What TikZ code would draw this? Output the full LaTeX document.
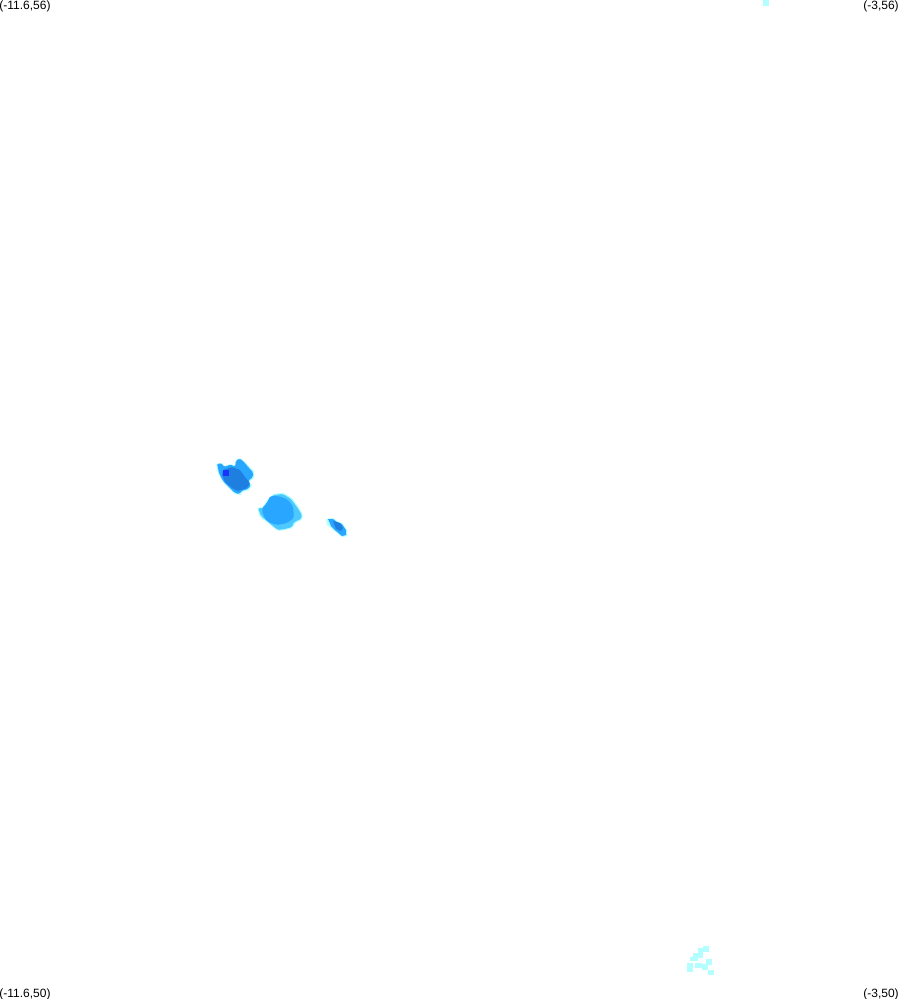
\documentclass[tikz,border=0pt]{standalone}
\usepackage{fontspec}
\setmainfont{Liberation Sans}
\definecolor{pale}{HTML}{B3FFFF}
\definecolor{lightb}{HTML}{4DC9FF}
\definecolor{midb}{HTML}{29A6FF}
\definecolor{deepb}{HTML}{1F7FE0}
\definecolor{coreb}{HTML}{1A33FF}
\tikzset{
  corner/.style={font=\fontsize{12}{14}\selectfont,text=black,inner sep=0pt},
  halo/.style={fill=pale,draw=none},
  lightblob/.style={fill=lightb,draw=none},
  midblob/.style={fill=midb,draw=none},
  deepblob/.style={fill=deepb,draw=none},
  coreblob/.style={fill=coreb,draw=none}
}
\begin{document}
\begin{tikzpicture}[x=1pt,y=-1pt]
\useasboundingbox (0,0) rectangle (899,999);
\fill[white] (0,0) rectangle (899,999);
% corner labels
\node[corner,anchor=center] (tl) at (25,6) {(-11.6,56)};
\node[corner,anchor=center] (tr) at (881,6) {(-3,56)};
\node[corner,anchor=center] (bl) at (25,994) {(-11.6,50)};
\node[corner,anchor=center] (br) at (881,994) {(-3,50)};
% top pixel
\fill[halo] (763,0) rectangle (769,6);
% blob 1
\fill[halo] (216,464) -- (222,463) -- (224,466) -- (231,464) -- (235,466) -- (236,460) -- (240,458) -- (245,462) -- (249,466) -- (254,471) -- (254,478) -- (249,482) -- (252,485) -- (249,490) -- (242,492) -- (241,495) -- (235,494) -- (230,489) -- (223,482) -- (218,473) -- cycle;
\fill[midblob,rounded corners=1.5pt] (217,463.5) -- (222,463.5) -- (224,467) -- (231,464.5) -- (235,467) -- (236,460.5) -- (240,458.5) -- (245,463) -- (248,467) -- (253,472) -- (253,477) -- (248,481) -- (251,485) -- (248,489) -- (241,491) -- (240,494) -- (235,493) -- (230,488) -- (223,481) -- (219,473) -- cycle;
\fill[deepblob,rounded corners=1pt] (223,470) -- (232,467) -- (240,470) -- (245,477) -- (250,483) -- (247,488) -- (238,491) -- (232,488) -- (225,482) -- (222,475) -- cycle;
\fill[coreblob] (223,470) rectangle (229,476);
% blob 2
\fill[halo,rounded corners=1.5pt] (273,494) -- (283,492.5) -- (292,498) -- (298,506) -- (303,515) -- (302,520) -- (295,523) -- (293,528) -- (285,530) -- (278,531) -- (273,527) -- (267,522) -- (260,517) -- (257,508) -- (263,507) -- (267,500) -- cycle;
\fill[lightblob,rounded corners=1.5pt] (273,495) -- (283,494) -- (291,499) -- (297,507) -- (302,515) -- (301,519) -- (294,522) -- (292,527) -- (285,529) -- (278,530) -- (273,526) -- (267,521) -- (261,516) -- (258,508) -- (264,508) -- (268,501) -- cycle;
\fill[midblob,rounded corners=2pt] (270,496) -- (278,496) -- (287,499) -- (293,506) -- (294,518) -- (287,523) -- (277,525) -- (268,522) -- (263,515) -- (262,508) -- (267,503) -- cycle;
% blob 3
\fill[halo] (326,519) -- (333,518) -- (337,521) -- (342,523) -- (347,530) -- (347,536) -- (342,537) -- (336,532) -- (330,527) -- (327,525) -- cycle;
\fill[midblob] (328,519) -- (333,519) -- (337,522) -- (342,524) -- (346,530) -- (346,535) -- (342,536) -- (336,531) -- (331,526) -- cycle;
\fill[deepblob] (333,521) -- (340,523) -- (343,528) -- (341,531) -- (336,529) -- cycle;
% blob 4 (scattered pale pixels)
\fill[halo] (703,946) rectangle (709,952);
\fill[halo] (698,948) rectangle (703,953);
\fill[halo] (693,953) rectangle (703,958);
\fill[halo] (690,957) rectangle (698,961);
\fill[halo] (687,963) rectangle (693,972);
\fill[halo] (695,963) rectangle (702,968);
\fill[halo] (702,964) rectangle (708,970);
\fill[halo] (706,959) rectangle (712,965);
\fill[halo] (708,970) rectangle (714,975);
\end{tikzpicture}
\end{document}
